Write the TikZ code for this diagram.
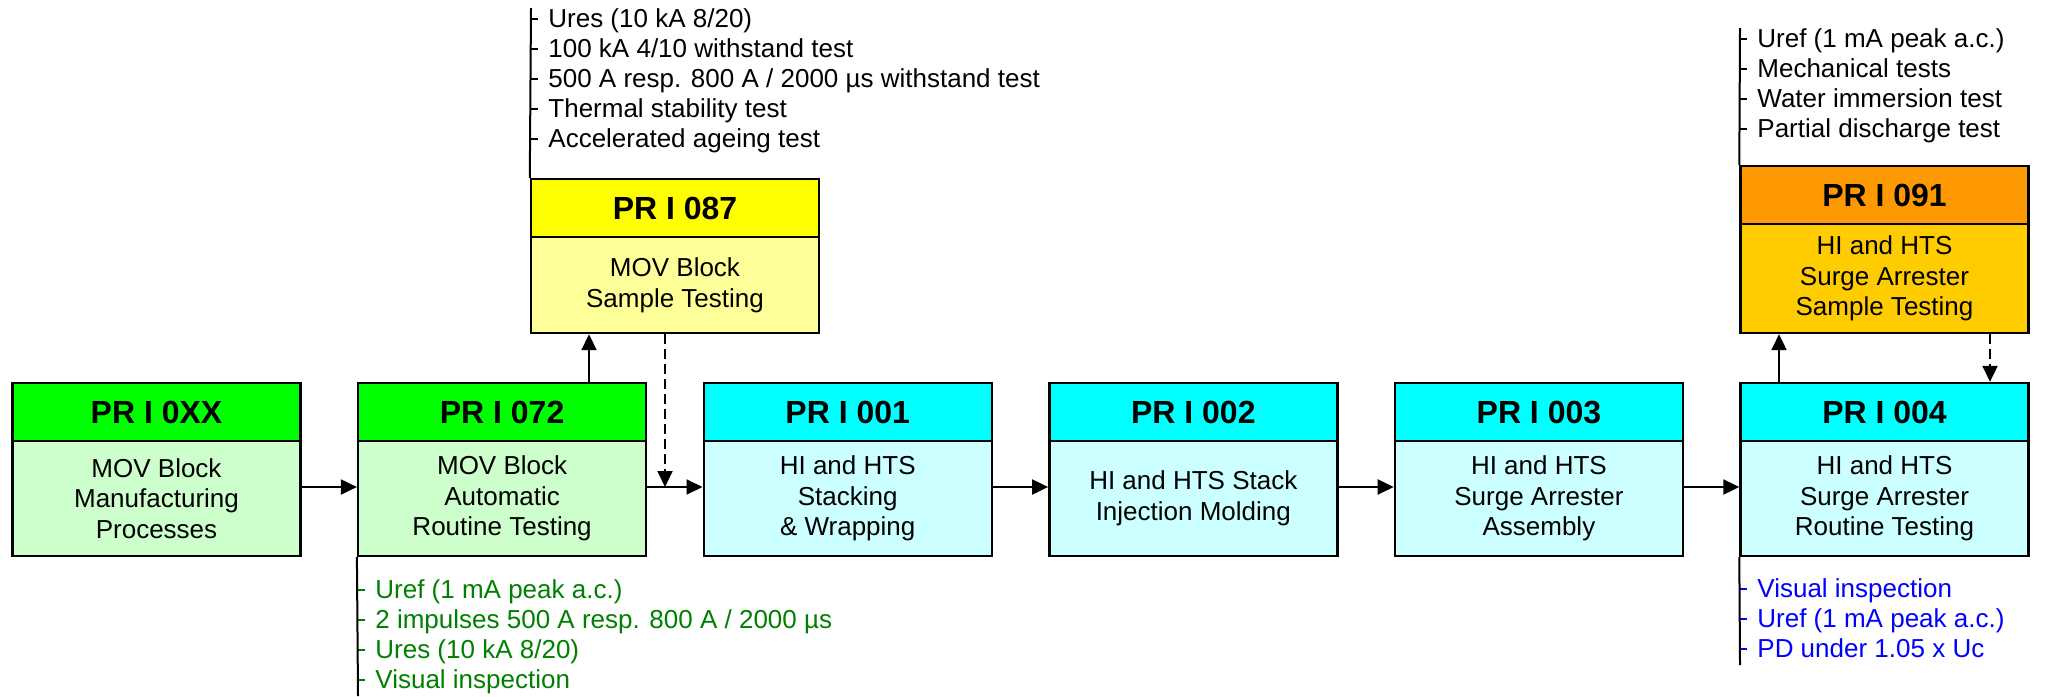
\documentclass[tikz,border=0pt]{standalone}
\usepackage{fontspec}
\setmainfont{Liberation Sans}
\usetikzlibrary{arrows.meta, positioning}

\definecolor{hgreen}{RGB}{0,255,0}
\definecolor{bgreen}{RGB}{204,255,204}
\definecolor{hyellow}{RGB}{255,255,0}
\definecolor{byellow}{RGB}{255,255,153}
\definecolor{hcyan}{RGB}{0,255,255}
\definecolor{bcyan}{RGB}{204,255,255}
\definecolor{horange}{RGB}{255,153,0}
\definecolor{borange}{RGB}{255,204,0}
\definecolor{tgreen}{RGB}{0,128,0}
\definecolor{tblue}{RGB}{0,0,255}

\newcommand{\tick}{\rule[0.28em]{3.5pt}{0.8pt}\hspace{5pt}}

\begin{document}
\begin{tikzpicture}[x=0.5pt,y=-0.5pt,node distance=172.8pt,on grid,>={Triangle[length=8pt,width=7.5pt]}]
  \tikzstyle{head}=[draw,line width=1.2pt,minimum width=144pt,minimum height=29pt,inner sep=0pt,font=\bfseries\fontsize{16}{19}\selectfont]
  \tikzstyle{body}=[draw,line width=1.2pt,minimum width=144pt,minimum height=57.5pt,inner sep=0pt,align=center,font=\fontsize{13}{15.35}\selectfont]
  \tikzstyle{tests}=[anchor=north west,inner sep=0pt,align=left,font=\fontsize{13}{15}\selectfont]
  \tikzstyle{link}=[line width=1pt]

  \useasboundingbox (0,0) rectangle (2048,696);

  % process chain
  \node[head,fill=hgreen](h_0xx) at (156.5,412) {PR I 0XX};
  \node[head,fill=hgreen](h_072)[right=of h_0xx] {PR I 072};
  \node[head,fill=hcyan](h_001)[right=of h_072] {PR I 001};
  \node[head,fill=hcyan](h_002)[right=of h_001] {PR I 002};
  \node[head,fill=hcyan](h_003)[right=of h_002] {PR I 003};
  \node[head,fill=hcyan](h_004)[right=of h_003] {PR I 004};

  \node[body,fill=bgreen](b_0xx)[below=43.25pt of h_0xx] {MOV Block\\Manufacturing\\Processes};
  \node[body,fill=bgreen](b_072)[below=43.25pt of h_072] {MOV Block\\Automatic\\Routine Testing};
  \node[body,fill=bcyan](b_001)[below=43.25pt of h_001] {HI and HTS\\Stacking\\\& Wrapping};
  \node[body,fill=bcyan](b_002)[below=43.25pt of h_002] {HI and HTS Stack\\Injection Molding};
  \node[body,fill=bcyan](b_003)[below=43.25pt of h_003] {HI and HTS\\Surge Arrester\\Assembly};
  \node[body,fill=bcyan](b_004)[below=43.25pt of h_004] {HI and HTS\\Surge Arrester\\Routine Testing};

  % sample testing
  \node[head,fill=hyellow](h_087) at (675,208) {PR I 087};
  \node[body,fill=byellow,minimum height=48pt](b_087)[below=38.5pt of h_087] {MOV Block\\Sample Testing};
  \node[head,fill=horange](h_091) at (1884.5,195) {PR I 091};
  \node[body,fill=borange,minimum height=54.5pt](b_091)[below=41.75pt of h_091] {HI and HTS\\Surge Arrester\\Sample Testing};

  \coordinate (ay) at (0,487);
  \path[->,link]
  (b_0xx.east |- ay) edge (b_072.west |- ay)
  (b_072.east |- ay) edge (b_001.west |- ay)
  (b_001.east |- ay) edge (b_002.west |- ay)
  (b_002.east |- ay) edge (b_003.west |- ay)
  (b_003.east |- ay) edge (b_004.west |- ay);

  \coordinate (u1) at (589,0);
  \coordinate (d1) at (665,0);
  \coordinate (u2) at (1779,0);
  \coordinate (d2) at (1990,0);
  \draw[->,link] (h_072.north -| u1) -- (b_087.south -| u1);
  \draw[->,link,dash pattern=on 5pt off 2.5pt] (b_087.south -| d1) -- (ay -| d1);
  \draw[->,link] (h_004.north -| u2) -- (b_091.south -| u2);
  \draw[->,link,dash pattern=on 5pt off 2.5pt] (b_091.south -| d2) -- (h_004.north -| d2);

  % test lists
  \node[tests](t_087) at (531,8) {\tick Ures (10 kA 8/20)\\\tick 100 kA 4/10 withstand test\\\tick 500 A resp. 800 A / 2000 µs withstand test\\\tick Thermal stability test\\\tick Accelerated ageing test};
  \node[tests](t_091) at (1740,28) {\tick Uref (1 mA peak a.c.)\\\tick Mechanical tests\\\tick Water immersion test\\\tick Partial discharge test};
  \node[tests,text=tgreen](t_072) at (358,579) {\tick Uref (1 mA peak a.c.)\\\tick 2 impulses 500 A resp. 800 A / 2000 µs\\\tick Ures (10 kA 8/20)\\\tick Visual inspection};
  \node[tests,text=tblue](t_004) at (1740,578) {\tick Visual inspection\\\tick Uref (1 mA peak a.c.)\\\tick PD under 1.05 x Uc};

  \coordinate (e_072) at (358,696);
  \coordinate (e_004) at (1740,665);
  \draw[link] (h_087.north west) -- (t_087.north west);
  \draw[link] (h_091.north west) -- (t_091.north west);
  \draw[link] (b_072.south west) -- (e_072);
  \draw[link] (b_004.south west) -- (e_004);
\end{tikzpicture}
\end{document}
